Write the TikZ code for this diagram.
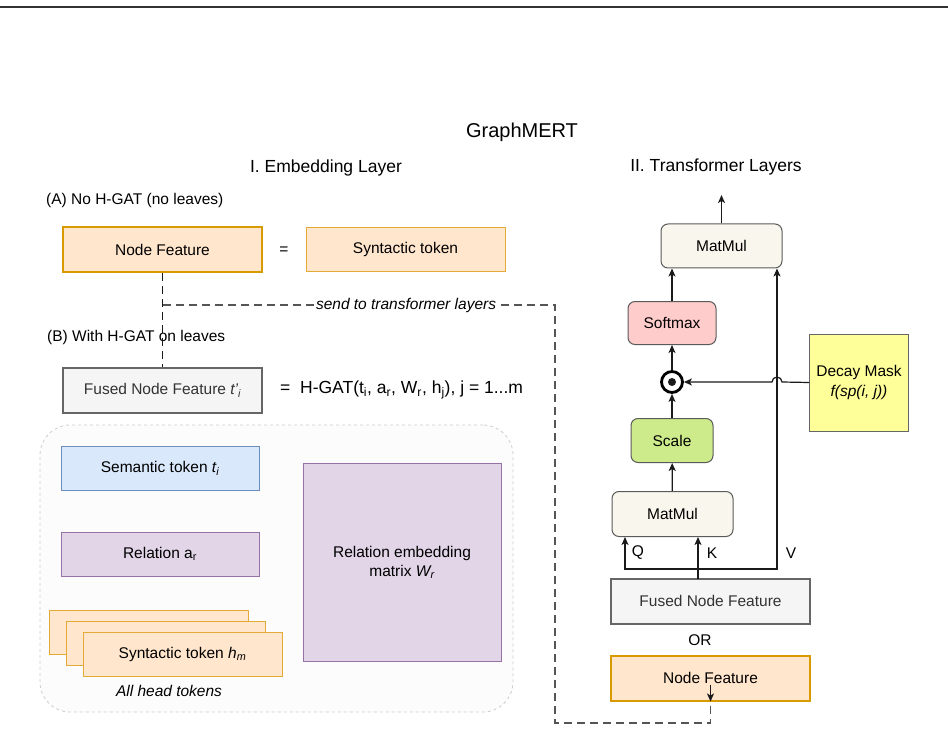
\documentclass[tikz,border=0pt]{standalone}
\usepackage{fontspec}
\setmainfont{Liberation Sans}
\usepackage{xcolor}
\usepackage{tikz}
\usetikzlibrary{arrows.meta, positioning, calc}

\definecolor{featfill}{HTML}{FFE6CC}
\definecolor{featdraw}{HTML}{D79B00}
\definecolor{tokdraw}{HTML}{E3AA38}
\definecolor{fusedfill}{HTML}{F5F5F5}
\definecolor{fuseddraw}{HTML}{666666}
\definecolor{fusedtext}{HTML}{333333}
\definecolor{semfill}{HTML}{DAE8FC}
\definecolor{semdraw}{HTML}{6C8EBF}
\definecolor{relfill}{HTML}{E1D5E7}
\definecolor{reldraw}{HTML}{9673A6}
\definecolor{mmfill}{HTML}{F9F7ED}
\definecolor{layerdraw}{HTML}{5A5A5A}
\definecolor{softfill}{HTML}{FFCCCC}
\definecolor{scalefill}{HTML}{CDEB8B}
\definecolor{decayfill}{HTML}{FFFF99}
\definecolor{boxline}{HTML}{CCCCCC}
\definecolor{boxfill}{HTML}{FCFCFC}
\definecolor{arrowcol}{HTML}{1A1A1A}
\definecolor{sendcol}{HTML}{555555}

\begin{document}
\begin{tikzpicture}[
    x=1pt, y=-1pt,
    every node/.style={font=\fontsize{15.5}{18}\selectfont, align=center, inner sep=0pt},
    heading/.style={font=\fontsize{17.5}{20}\selectfont},
    feature/.style={rectangle, draw=featdraw, fill=featfill, line width=2pt, minimum width=199pt, minimum height=45pt},
    token/.style={rectangle, draw=tokdraw, fill=featfill, line width=1pt, minimum width=199pt, minimum height=44pt},
    fused/.style={rectangle, draw=fuseddraw, fill=fusedfill, line width=2pt, minimum width=199pt, minimum height=45pt, text=fusedtext},
    embed/.style={rectangle, line width=1pt, minimum width=198pt, minimum height=44pt},
    layer/.style={rectangle, rounded corners=7pt, draw=layerdraw, line width=1pt, minimum height=44pt},
    arrow/.style={-{Stealth[length=8pt,width=7pt,inset=2pt]}, line width=1.2pt, draw=arrowcol},
    sendline/.style={dash pattern=on 8pt off 5pt, line width=1.2pt, draw=sendcol}
]
\useasboundingbox (0,0) rectangle (948,730);

% Rule and titles
\coordinate (ruleL) at (0,7);
\coordinate (ruleR) at (948,7);
\draw [line width=1.4pt, draw=fusedtext] (ruleL) -- (ruleR);

\node (title) [font=\fontsize{20}{24}\selectfont] at (522,132) {GraphMERT};
\node (embtitle) [heading] at (326,168) {I. Embedding Layer};
\node (trftitle) [heading] at (716,167) {II. Transformer Layers};

% Embedding layer
\node (labA) [anchor=west] at (46,200) {(A) No H-GAT (no leaves)};
\node (nfA) [feature] at (162.5,249.5) {Node Feature};
\node (eqA) at (284,251) {=};
\node (synA) [token] at (405.5,249.5) {Syntactic token};

\node (labB) [anchor=west] at (47,337) {(B) With H-GAT on leaves};
\node (fusedA) [fused] at (162.5,390) {Fused Node Feature \textit{t'\textsubscript{i}}};
\node (hgat) [anchor=west, font=\fontsize{17.5}{20}\selectfont] at (280,390)
    {= \ H-GAT(t\textsubscript{i}, a\textsubscript{r}, W\textsubscript{r}, h\textsubscript{j}), j = 1...m};

\node (leaves) [rectangle, rounded corners=30pt, draw=boxline, fill=boxfill, dashed, line width=0.8pt,
    minimum width=473pt, minimum height=287pt] at (276.5,568.5) {};
\node (sem) [embed, draw=semdraw, fill=semfill] at (160,468) {Semantic token \textit{t\textsubscript{i}}};
\node (rel) [embed, draw=reldraw, fill=relfill] at (160,554) {Relation a\textsubscript{r}};
\node (relmat) [embed, draw=reldraw, fill=relfill, minimum height=198pt, font=\fontsize{15.5}{19}\selectfont]
    at (402,562) {Relation embedding\\matrix \textit{W\textsubscript{r}}};

\node (syn1) [token] at (148.5,632) {};
\node (syn2) [token, shift={(17,11)}] at (syn1) {};
\node (syn3) [token, shift={(17,11)}] at (syn2) {Syntactic token \textit{h\textsubscript{m}}};
\node (allhead) [font=\fontsize{15.5}{18}\selectfont\itshape] at (169,691) {All head tokens};

% Transformer layers
\node (mmTop) [layer, fill=mmfill, minimum width=121pt] at (721.5,246) {MatMul};
\node (softmax) [layer, fill=softfill, minimum width=88pt, minimum height=43pt] at (672,323) {Softmax};
\node (odot) [circle, draw=black, line width=2.8pt, minimum size=21pt] at (672,382) {};
\fill [arrowcol] (odot.center) circle (4);
\node (scale) [layer, fill=scalefill, minimum width=82pt] at (672,440.5) {Scale};
\node (mmLow) [layer, fill=mmfill, minimum width=121pt, minimum height=45pt] at (672.5,514) {MatMul};
\node (decay) [rectangle, draw=fuseddraw, fill=decayfill, line width=1pt, minimum width=99pt, minimum height=97pt,
    font=\fontsize{15.5}{20}\selectfont] at (859,382.5) {Decay Mask\\\textit{f(sp(i, j))}};

\node (fusedB) [fused] at (710.5,601) {Fused Node Feature};
\node (orB) at (700,640) {OR};
\node (nfB) [feature] at (710.5,678) {Node Feature};

\node (qlab) at (638,553) {Q};
\node (klab) at (712,553) {K};
\node (vlab) at (791,553) {V};

% Arrows
\coordinate (out) at (721.5,195);
\draw [arrow] (mmTop) -- (out);
\draw [arrow] (softmax.north) -- (softmax.north |- mmTop.south);
\draw [arrow] (odot) -- (softmax);
\draw [arrow] (scale) -- (odot);
\draw [arrow] (mmLow) -- (scale);

\coordinate (kbase) at (698,579);
\coordinate (fork) at (698,569);
\draw [arrow] (kbase) -- (kbase |- mmLow.south);
\draw [arrow] (fork) -| ([xshift=-47.5pt]mmLow.south);
\draw [arrow] (fork) -| ([xshift=55.5pt]mmTop.south);

\coordinate (hop) at (782,382);
\draw [arrow] (decay.west) -- (hop) arc (0:-180:5) -- (odot.east);

% Send to transformer layers
\draw [sendline, draw=arrowcol] (nfA) -- (fusedA);
\coordinate (branch) at (163,305);
\coordinate (turn1) at (555,305);
\coordinate (turn2) at (555,723);
\draw [sendline] (branch) -- node [pos=0.62, fill=white, inner sep=1.5pt, font=\fontsize{15.5}{18}\selectfont\itshape]
    {send to transformer layers} (turn1) -- (turn2) -| (nfB.south);
\draw [arrow] ([yshift=17pt]nfB.south) -- (nfB.south);

\end{tikzpicture}
\end{document}
